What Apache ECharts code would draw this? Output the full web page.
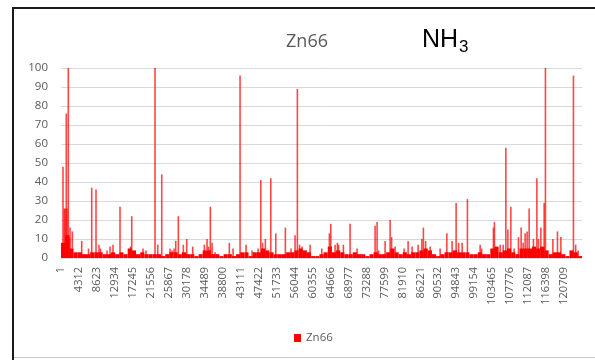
<!DOCTYPE html>
<html><head><meta charset="utf-8">
<script src="https://cdn.jsdelivr.net/npm/echarts@6/dist/echarts.min.js"></script>
<style>html,body{margin:0;padding:0;background:#fff}#c{width:595px;height:360px}</style>
</head><body><div id="c"></div>
<script>
// x tick labels (Excel category numbers, every 4311 rows)
const xTickLabels = ['1','4312','8623','12934','17245','21556','25867','30178','34489','38800','43111','47422','51733','56044','60355','64666','68977','73288','77599','81910','86221','90532','94843','99154','103465','107776','112087','116398','120709'];
const tickStep = 4311;
const rowCount = 125000;
const yTicks = [0,10,20,30,40,50,60,70,80,90,100];

// isolated spikes: row offset (row number - 1) and value
const spikeRows = [480,790,1030,1270,1440,1750,2040,2160,2710,4970,6600,7370,8400,9120,9480,11040,11760,12480,14160,16680,16970,19680,20400,22560,23210,24170,26160,26640,27120,27530,28150,29350,30170,
31610,34390,35040,35400,35830,36240,36960,40390,41280,42960,44400,45840,47280,47930,48360,49030,50330,51530,53830,55200,56160,56710,57240,57840,59760,
62570,64390,64730,65760,66310,66600,67750,69360,71040,75360,75840,76200,77760,78960,79320,80160,82320,83280,84240,85680,86570,86950,87480,88560,90960,92570,
93840,94800,95400,96240,97510,100560,100920,103750,103990,105360,106080,106730,107210,107930,108720,109750,110400,110880,111360,111840,112320,113350,114170,114550,115130,115920,116230,118010,119110,119930,122950,123480,124080];
const spikeValues = [48,26,26,76,26,100,11,16,14,9,5,37,36,7,5,4,6,7,27,6,22,5,4,100,7,44,5,4,5,9,22,7,10,
6,7,10,6,27,8,3,8,5,96,7,4,5,41,8,10,42,13,16,5,12,89,7,6,7,
5,13,18,7,8,7,7,18,5,17,19,4,9,20,11,6,5,9,6,7,10,16,9,6,5,13,
9,29,8,8,31,7,5,16,19,7,7,58,15,27,5,11,16,8,13,14,26,10,42,10,16,29,100,10,14,11,96,7,4];

// dense background level, one value per block of 1000 rows
const baseValues = [8,12,5,3,3,2,2,3,3,3,
2,2,3,2,3,2,5,4,2,3,
2,2,2,2,1,2,3,3,2,3,
2,2,1,2,4,4,2,2,1,2,
2,1,2,3,3,1,3,3,5,4,
3,2,2,2,3,3,4,5,4,3,
1,1,2,3,6,3,4,3,2,2,
3,2,2,1,2,3,2,2,3,5,
3,2,3,2,3,3,4,5,4,2,
1,2,3,3,4,3,3,3,2,2,
3,2,2,5,6,3,4,5,3,2,
5,5,5,6,5,6,4,2,3,3,
2,1,4,3,1];

const chart = echarts.init(document.getElementById('c'), null, {renderer:'canvas'});
const FONT = 'Open Sans';
chart.setOption({
  animation: false,
  backgroundColor: '#fff',
  grid: {left: 61, right: 13, top: 68, bottom: 102},
  legend: {
    data: ['Zn66'], left: 289, top: 327, icon: 'rect', itemWidth: 7, itemHeight: 8, itemGap: 5,
    itemStyle: {color: '#ff0000', opacity: 1},
    textStyle: {color: '#595959', fontSize: 11.5, fontFamily: FONT}
  },
  xAxis: [{
    type: 'value', min: 0, max: rowCount, interval: tickStep,
    axisLine: {show: true, lineStyle: {color: '#d9d9d9'}},
    axisTick: {show: false}, splitLine: {show: false},
    axisLabel: {
      rotate: 90, margin: 9, color: '#595959', fontSize: 11, fontFamily: FONT,
      showMaxLabel: false,
      formatter: function (v) {
        const i = Math.round(v / tickStep);
        return (Math.abs(v - i * tickStep) < 1e-6 && i < xTickLabels.length) ? xTickLabels[i] : '';
      }
    }
  }, {
    type: 'category', show: false, boundaryGap: true,
    data: baseValues.map(function (_, i) { return i; })
  }],
  yAxis: {
    type: 'value', min: yTicks[0], max: yTicks[yTicks.length - 1], interval: 10,
    axisLine: {show: false}, axisTick: {show: false},
    splitLine: {lineStyle: {color: '#d9d9d9', width: 1}},
    axisLabel: {color: '#595959', fontSize: 11.5, fontFamily: FONT, margin: 13}
  },
  series: [{
    name: 'Zn66', type: 'bar', xAxisIndex: 1, barCategoryGap: '0%', barWidth: '100%',
    itemStyle: {color: '#ff0000'},
    data: baseValues,
    z: 3
  }, {
    name: 'Zn66', type: 'bar', xAxisIndex: 0, barWidth: 1.6,
    itemStyle: {color: '#ff0000', opacity: 0.72},
    data: spikeRows.map(function (r, i) { return [r, spikeValues[i]]; }),
    z: 2
  }],
  graphic: [
    {type: 'rect', shape: {x: 13, y: 8, width: 700, height: 700}, style: {fill: 'none', stroke: '#1a1a1a', lineWidth: 2}, z: 10},
    {type: 'line', shape: {x1: 14, y1: 357.5, x2: 595, y2: 357.5}, style: {stroke: '#c8c8c8', lineWidth: 1}, z: 10},
    {type: 'text', x: 307, y: 42, style: {text: 'Zn66', fill: '#595959', font: '18px "Open Sans"', textAlign: 'center', textVerticalAlign: 'middle'}, z: 10},
    {type: 'text', x: 422, y: 40, style: {text: 'NH', fill: '#000', font: '25px "Liberation Sans"', textAlign: 'left', textVerticalAlign: 'middle'}, z: 10},
    {type: 'text', x: 459, y: 47, style: {text: '3', fill: '#000', font: '17px "Liberation Sans"', textAlign: 'left', textVerticalAlign: 'middle'}, z: 10}
  ]
});
</script>
</body></html>
